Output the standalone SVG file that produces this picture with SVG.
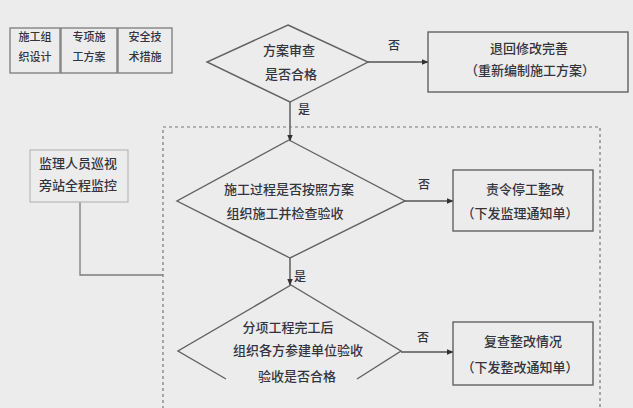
<svg xmlns="http://www.w3.org/2000/svg" width="633" height="408" viewBox="0 0 633 408">
<defs>
<marker id="arr" viewBox="0 0 10 10" refX="9" refY="5" markerWidth="7" markerHeight="7" orient="auto" markerUnits="userSpaceOnUse">
<path d="M0,1 L10,5 L0,9 z" fill="#333"/>
</marker>
<style>
.bg{fill:#ececec}
.n{fill:none;stroke:#626262;stroke-width:1.4}
.sm{fill:none;stroke:#7c7c7c;stroke-width:1.3}
.f{fill:none;stroke:#b4b4b4;stroke-width:1.1}
.c{fill:none;stroke:#555;stroke-width:1.4}
.d{fill:none;stroke:#777;stroke-width:1.2;stroke-dasharray:3 3}
text{font-family:"Noto Sans CJK SC","Noto Sans",sans-serif;fill:#34343e;text-anchor:middle;font-weight:500}
.t{font-size:13px}
.s{font-size:11px}
.l{font-size:12px}
</style>
</defs>
<rect class="bg" x="0" y="0" width="633" height="408"/>
<g id="connectors">
<path class="c" d="M368,62 L428,62" marker-end="url(#arr)"/>
<path class="c" d="M290,102 L290,141" marker-end="url(#arr)"/>
<path class="c" d="M405,201 L453,201" marker-end="url(#arr)"/>
<path class="c" d="M290,258 L290,285" marker-end="url(#arr)"/>
<path class="c" d="M401,352 L453,352" marker-end="url(#arr)"/>
<path class="sm" d="M80,202 L80,275 L163,275"/>
<text class="l" x="394" y="50">否</text>
<text class="l" x="304" y="114">是</text>
<text class="l" x="424" y="189">否</text>
<text class="l" x="300" y="281">是</text>
<text class="l" x="423" y="342">否</text>
</g>
<g id="scope">
<rect class="d" x="163" y="127" width="437" height="295"/>
</g>
<g id="doc1">
<rect class="sm" x="10" y="28" width="50" height="45"/>
<text class="s" x="35" y="41">施工组</text>
<text class="s" x="35" y="61">织设计</text>
</g>
<g id="doc2">
<rect class="sm" x="61" y="28" width="56" height="45"/>
<text class="s" x="89" y="41">专项施</text>
<text class="s" x="89" y="61">工方案</text>
</g>
<g id="doc3">
<rect class="sm" x="118" y="28" width="54" height="45"/>
<text class="s" x="145" y="41">安全技</text>
<text class="s" x="145" y="61">术措施</text>
</g>
<g id="decision1">
<polygon class="n" points="288,25 368,62 290,102 207,62"/>
<text class="t" x="289" y="55">方案审查</text>
<text class="t" x="291" y="79">是否合格</text>
</g>
<g id="reject1">
<rect class="n" x="428" y="32" width="200" height="60"/>
<text class="t" x="529" y="53">退回修改完善</text>
<text class="t" x="530" y="75">（重新编制施工方案）</text>
</g>
<g id="monitor">
<rect class="f" x="30" y="150" width="98" height="52"/>
<text class="t" x="78" y="168">监理人员巡视</text>
<text class="t" x="78" y="190">旁站全程监控</text>
</g>
<g id="decision2">
<polygon class="n" points="289,140 405,201 290,258 177,201"/>
<text class="t" x="289" y="194">施工过程是否按照方案</text>
<text class="t" x="285" y="218">组织施工并检查验收</text>
</g>
<g id="reject2">
<rect class="n" x="453" y="170" width="140" height="61"/>
<text class="t" x="525" y="194">责令停工整改</text>
<text class="t" x="520" y="218">（下发监理通知单）</text>
</g>
<g id="decision3">
<path class="n" d="M226,379 L178,351 L291,285 L401,351 L357,379"/>
<text class="t" x="288" y="332">分项工程完工后</text>
<text class="t" x="298" y="355">组织各方参建单位验收</text>
<text class="t" x="297" y="381">验收是否合格</text>
</g>
<g id="reject3">
<rect class="n" x="453" y="322" width="140" height="63"/>
<text class="t" x="523" y="346">复查整改情况</text>
<text class="t" x="520" y="372">（下发整改通知单）</text>
</g>
</svg>
